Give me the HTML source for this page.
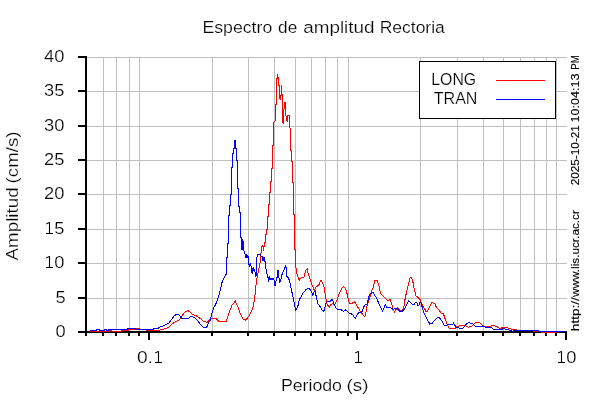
<!DOCTYPE html>
<html><head><meta charset="utf-8"><title>Espectro de amplitud Rectoria</title>
<style>html,body{margin:0;padding:0;background:#fff;}body{width:600px;height:400px;overflow:hidden;}svg{display:block;}text{font-family:"Liberation Sans",sans-serif;fill:#000;stroke:#fff;stroke-width:0.2px;paint-order:fill stroke;}</style></head><body>
<svg width="600" height="400" viewBox="0 0 600 400">
<rect x="0" y="0" width="600" height="400" fill="#fff"/>
<g fill="#c0c0c0" shape-rendering="crispEdges">
<rect x="103" y="57" width="1" height="275"/>
<rect x="116" y="57" width="1" height="275"/>
<rect x="129" y="57" width="1" height="275"/>
<rect x="139" y="57" width="1" height="275"/>
<rect x="212" y="57" width="1" height="275"/>
<rect x="248" y="57" width="1" height="275"/>
<rect x="274" y="57" width="1" height="275"/>
<rect x="295" y="57" width="1" height="275"/>
<rect x="311" y="57" width="1" height="275"/>
<rect x="325" y="57" width="1" height="275"/>
<rect x="337" y="57" width="1" height="275"/>
<rect x="348" y="57" width="1" height="275"/>
<rect x="420" y="57" width="1" height="275"/>
<rect x="457" y="57" width="1" height="275"/>
<rect x="483" y="57" width="1" height="275"/>
<rect x="503" y="57" width="1" height="275"/>
<rect x="520" y="57" width="1" height="275"/>
<rect x="534" y="57" width="1" height="275"/>
<rect x="546" y="57" width="1" height="275"/>
<rect x="556" y="57" width="1" height="275"/>
<rect x="86" y="298" width="481" height="1"/>
<rect x="86" y="263" width="481" height="1"/>
<rect x="86" y="229" width="481" height="1"/>
<rect x="86" y="194" width="481" height="1"/>
<rect x="86" y="160" width="481" height="1"/>
<rect x="86" y="126" width="481" height="1"/>
<rect x="86" y="91" width="481" height="1"/>
<rect x="86" y="57" width="481" height="1"/>
</g>
<g fill="#000" shape-rendering="crispEdges">
<rect x="85" y="56" width="2" height="277"/>
<rect x="85" y="331" width="482" height="2"/>
<rect x="78" y="331" width="9" height="2"/>
<rect x="78" y="297" width="9" height="2"/>
<rect x="78" y="262" width="9" height="2"/>
<rect x="78" y="228" width="9" height="2"/>
<rect x="78" y="193" width="9" height="2"/>
<rect x="78" y="159" width="9" height="2"/>
<rect x="78" y="125" width="9" height="2"/>
<rect x="78" y="90" width="9" height="2"/>
<rect x="78" y="56" width="9" height="2"/>
<rect x="148" y="331" width="2" height="9"/>
<rect x="356" y="331" width="2" height="9"/>
<rect x="565" y="331" width="2" height="9"/>
<rect x="85" y="331" width="2" height="5"/>
<rect x="102" y="331" width="2" height="5"/>
<rect x="115" y="331" width="2" height="5"/>
<rect x="128" y="331" width="2" height="5"/>
<rect x="138" y="331" width="2" height="5"/>
<rect x="211" y="331" width="2" height="5"/>
<rect x="247" y="331" width="2" height="5"/>
<rect x="273" y="331" width="2" height="5"/>
<rect x="294" y="331" width="2" height="5"/>
<rect x="310" y="331" width="2" height="5"/>
<rect x="324" y="331" width="2" height="5"/>
<rect x="336" y="331" width="2" height="5"/>
<rect x="347" y="331" width="2" height="5"/>
<rect x="419" y="331" width="2" height="5"/>
<rect x="456" y="331" width="2" height="5"/>
<rect x="482" y="331" width="2" height="5"/>
<rect x="502" y="331" width="2" height="5"/>
<rect x="519" y="331" width="2" height="5"/>
<rect x="533" y="331" width="2" height="5"/>
<rect x="545" y="331" width="2" height="5"/>
<rect x="555" y="331" width="2" height="5"/>
</g>
<polyline points="90,331.5 109.5,331.5 110,330.5 111.5,330.5 112,331.5 121,331.5 121.5,330.5 128,330.5 128.5,329.5 134,329.5 136,328.5 139,328.5 139.5,329.5 146,329.5 146.5,330.5 159.3,330.3 164.7,328.7 168.7,327.3 172,324 176,321.3 179.3,320 182,316 185,312 188,310.7 190,312 192.7,314.7 196,315.6 200,318.3 203.3,321 207.3,322.6 209.3,320 212,318.7 216,318.6 218,320.7 220,321.9 226,321.75 228.25,315 232,305.25 235.3,301.2 237.25,305.25 240.25,313.5 243.25,319.5 245.5,320.25 249.25,315.75 252.7,309 254.5,300 256,285 257.5,274.5 258.7,270 260.5,261 261.3,248 262.4,245.6 263.3,246.3 263.3,250.5 264.2,246.5 264.7,242.3 265.5,242 265.5,234.5 266.5,234.5 266.5,229.5 267.5,229.5 267.5,216 268.5,216 268.5,204.5 269.5,204.5 269.5,192.5 270.5,192.5 270.5,181 271.5,181 271.5,168.25 272.5,168.25 272.5,145.75 273.6,145.75 273.6,123 274.75,121.1 275.5,120.75 275.5,105 276.5,104.6 276.5,78.3 277.5,78.2 277.5,74.25 277.5,77.3 278.5,77.3 278.5,85.8 279.5,85.8 279.5,98.25 280.5,99.4 280.5,95.6 281.5,95.2 281.5,85.4 281.5,94 282.5,94.1 282.5,121.9 283.4,123.75 283.75,111.75 284.65,102 285.6,102 285.6,115.1 286.4,116.8 286.75,120 287.5,121.5 287.5,115.5 289.4,115.9 289.4,127.5 290.5,128.25 290.5,150 291.5,150 291.5,161.5 292.5,161.5 292.5,182 293.5,182 293.5,214.5 294.5,214.5 294.5,249 295.5,249 295.8,267 297,273.75 298.5,278.25 299.25,280.5 300,278.25 303.75,277.5 306,270 307.2,269.25 308.25,273.75 311.25,282.75 314.25,290.5 315.75,287.25 318.75,285 321,280.3 322.5,282.75 324.3,288 325.8,297.75 327,303.75 329.25,307.5 330.75,304.5 333,303.75 334.5,305.25 336.75,300.75 339,294 342,288 343.8,286.3 346.2,290.25 347.7,296.25 349.2,303 351.75,303.75 354.3,301.5 356.25,304.5 358.5,308.25 360.75,312 363,315 364.8,316.5 366,312 367.2,304.5 369,300 371.25,292.4 373.5,286.3 374.75,280.5 377.3,280.5 378.8,285.5 380.75,293.75 383,296 385.25,298.25 387.5,300.2 390.2,299.75 391.7,303.5 392.75,308.75 394.55,312.2 396,309.5 398,307.7 400.25,310.25 402.5,310.25 404,306.5 405.2,298.25 407,290 408.8,282.5 410,277.7 411.5,277.7 413,282.5 414.5,290 416,296 418.25,297.5 420.2,299.75 421.7,303.5 423.8,307.25 425.75,311 427.7,311 429.5,307.25 431.75,302.75 434.75,303.5 436.7,308 439.25,310.25 441.5,313.6 443.5,314 445,318.5 446.9,323.5 448.75,327.9 450,328.75 455.6,328.5 456.25,326.6 458.75,326 460.6,325.4 464.4,325.4 466.9,326.6 468.1,327.25 470,326.4 471.9,326 473.75,324.1 476.25,322.25 478.75,322.25 480.6,323.5 482.5,325.4 485,326.4 489.4,326.6 491.25,326 493.75,325.6 496.25,326.4 498.1,327.25 500,328.5 503.75,327.25 507.75,327.6 509.4,328.7 511.6,329.25 515.45,329.6 518.2,330.5 533,330.5 533,331.5 541.9,331.5 542,332.5 556.9,332.5 557,331.5 566,331.5" fill="none" stroke="#ff0000" stroke-width="1" shape-rendering="crispEdges"/>
<polyline points="90,330.5 96,330.5 96.5,329.5 99.5,329.5 100,330.5 104,330.5 104.3,329.5 106,329.5 106.3,330.5 108.3,330.5 108.5,329.5 127,329.5 127.5,328.5 135,328.5 135.5,329.5 153.3,329.5 153.5,328.5 158.3,328.5 158.5,327.5 162.7,326 168.7,323.3 172,318.7 174.7,315.3 177.3,314.4 179.6,315.3 181.3,318 183.3,318.7 188,318.7 191.3,316 193.3,317.3 196,318.7 198.7,322 201.3,325.7 204.7,328 206.5,327 207.3,326 208.75,322.5 210,321.3 211.75,313.5 214,306.75 215.3,305.3 218.3,297.5 219.5,294 220.5,289 221.5,284.5 222.5,280.5 223.5,279 224.5,277.2 225.5,275.2 226.5,274 226.5,257.5 227.5,257.5 227.5,243.5 228.5,243.5 228.5,215 229.5,215 229.5,205 230.5,205 230.5,194 231.5,194 231.5,167 232.5,167 232.5,153.25 233.5,153.25 233.5,148.5 234.5,148.5 234.5,140.5 235.5,140.5 235.5,148.3 236.5,148.3 236.5,160 237.5,160 237.5,188 238.5,188 238.5,206 239.5,206 239.5,212 240.5,212 240.5,237.75 241.5,238 241.5,249.5 242.4,239.5 242.4,249.7 243.2,241.5 243.2,249.75 243.8,250 244.5,253.75 245,254 245,257.5 246,254 246,257.5 247,254.5 247,257.5 248,255.5 248.2,257.5 248.6,264.25 249.6,266 250.2,263.5 251.1,266.1 251.6,273.25 252.2,268 252.5,273.5 253.6,267.25 254.2,271.5 254.8,270 255.6,276 256.5,275.5 256.5,259 257.5,254.6 260.1,254.6 261.6,256.4 262.4,256.6 262.6,260.5 263.4,256.8 263.6,261 264.4,257.5 264.6,261.25 265.4,262 265.75,267.25 266.9,273.25 267.6,277.4 268.5,278 268.5,281.5 269.5,278 270,280 271,278 272,279.5 273,278 274,280 275.1,286 276.3,280 277,277 277.5,270 278,278 278.5,270.5 279,278 280,282.5 281.2,278 282.25,273.5 284.5,268.75 285.6,266.1 286.4,268.75 286.4,276.25 288.6,278 290.1,283.4 291.25,289.4 292,292.5 293.25,298.5 294.75,306 295.8,310.5 297.75,306.75 299.25,300 303,293.25 306,289.5 308.7,288.3 311.25,291 312.75,295 314.25,291.75 315.3,291 316.5,298.5 318,303.75 320.25,306.75 322.5,310.5 323.7,311.55 324.75,308.25 325.8,303 327.75,301.5 330,301.8 331.8,299.25 333.3,301.5 334.5,305.25 336,308.25 337.5,309.75 341.25,309.75 343.5,311.25 345,309.75 347.25,311.25 349.5,313.5 352.5,314.25 354,317.25 355.2,318.3 356.7,315.3 358.5,312.75 361.5,312.75 363,309 364.5,305.25 367.2,303.75 368.25,299.5 369.3,294.75 371.25,293.2 373.25,292.5 374.75,295.25 377,299 378.8,303.5 380.75,307.25 382.7,311 384.2,307.25 385.25,304.7 386.75,307.7 389,307.25 391.25,308 393.2,309.5 395,308 397.25,308.75 399.5,311 402.5,311 404.75,308.75 407,304.25 408.5,300.5 410.75,302.75 412.25,304.25 414.5,304.25 415.25,302 416.75,302 417.5,305.3 419,305.3 419.3,302 420.8,302 422,306.5 423.8,312.5 425.75,316.25 428,320.75 429.8,324 431.75,323.75 434,320.75 436.25,318.5 438.5,317.3 440,318.5 441.9,321 444.4,325.4 446.9,325.4 447.5,324.5 452.5,324.5 453.5,323.25 455,325.4 456.25,327.25 458.75,327.6 460,328.75 462.5,328.75 464.4,326.6 466.25,324.1 468.75,322.25 470.6,323.5 473.1,324.1 475,326 476.25,327 477.5,326.25 483.75,326.25 485.6,327.25 491.25,327.25 493.75,329.5 501.25,329.5 503.1,328.75 507.5,329.5 510,330.4 512.5,331.25 513.75,330.5 538,330.5 538.3,331.5 566,331.5" fill="none" stroke="#0000ff" stroke-width="1" shape-rendering="crispEdges"/>
<g shape-rendering="crispEdges">
<rect x="419.5" y="61.5" width="136" height="57" fill="#fff" stroke="#000" stroke-width="1"/>
<rect x="496" y="80" width="49" height="1" fill="#ff0000"/>
<rect x="496" y="99" width="49" height="1" fill="#0000ff"/>
</g>
<g opacity="0.999">
<text x="202.40" y="32.80" font-size="16.7" text-anchor="start" textLength="69.90" lengthAdjust="spacingAndGlyphs">Espectro</text>
<text x="278.10" y="32.80" font-size="16.7" text-anchor="start" textLength="19.20" lengthAdjust="spacingAndGlyphs">de</text>
<text x="303.20" y="32.80" font-size="16.7" text-anchor="start" textLength="71.30" lengthAdjust="spacingAndGlyphs">amplitud</text>
<text x="379.70" y="32.80" font-size="16.7" text-anchor="start" textLength="65.10" lengthAdjust="spacingAndGlyphs">Rectoria</text>
<text x="55.40" y="337.00" font-size="16.7" text-anchor="start" textLength="10.17" lengthAdjust="spacingAndGlyphs">0</text>
<text x="55.40" y="303.00" font-size="16.7" text-anchor="start" textLength="10.17" lengthAdjust="spacingAndGlyphs">5</text>
<rect x="48.95" y="256.10" width="1.1" height="11.9"/><rect x="46.00" y="266.95" width="7" height="1.05"/><path d="M48.95,256.10 L48.95,257.20 L46.15,258.40 L46.15,257.40 Z"/><text x="54.27" y="268.00" font-size="16.7" text-anchor="start" textLength="10.17" lengthAdjust="spacingAndGlyphs">0</text>
<rect x="48.95" y="222.10" width="1.1" height="11.9"/><rect x="46.00" y="232.95" width="7" height="1.05"/><path d="M48.95,222.10 L48.95,223.20 L46.15,224.40 L46.15,223.40 Z"/><text x="54.27" y="234.00" font-size="16.7" text-anchor="start" textLength="10.17" lengthAdjust="spacingAndGlyphs">5</text>
<text x="44.10" y="199.00" font-size="16.7" text-anchor="start" textLength="20.34" lengthAdjust="spacingAndGlyphs">20</text>
<text x="44.10" y="165.00" font-size="16.7" text-anchor="start" textLength="20.34" lengthAdjust="spacingAndGlyphs">25</text>
<text x="44.10" y="131.00" font-size="16.7" text-anchor="start" textLength="20.34" lengthAdjust="spacingAndGlyphs">30</text>
<text x="44.10" y="96.00" font-size="16.7" text-anchor="start" textLength="20.34" lengthAdjust="spacingAndGlyphs">35</text>
<text x="44.10" y="62.00" font-size="16.7" text-anchor="start" textLength="20.34" lengthAdjust="spacingAndGlyphs">40</text>
<text x="136.90" y="363.00" font-size="16.7" text-anchor="start" textLength="15.99" lengthAdjust="spacingAndGlyphs">0.</text><rect x="157.95" y="351.10" width="1.1" height="11.9"/><rect x="155.00" y="361.95" width="7" height="1.05"/><path d="M157.95,351.10 L157.95,352.20 L155.15,353.40 L155.15,352.40 Z"/>
<rect x="357.95" y="351.10" width="1.1" height="11.9"/><rect x="355.00" y="361.95" width="7" height="1.05"/><path d="M357.95,351.10 L357.95,352.20 L355.15,353.40 L355.15,352.40 Z"/>
<rect x="560.95" y="351.10" width="1.1" height="11.9"/><rect x="558.00" y="361.95" width="7" height="1.05"/><path d="M560.95,351.10 L560.95,352.20 L558.15,353.40 L558.15,352.40 Z"/><text x="566.17" y="363.00" font-size="16.7" text-anchor="start" textLength="10.17" lengthAdjust="spacingAndGlyphs">0</text>
<text x="280.90" y="390.80" font-size="16.7" text-anchor="start" textLength="61.10" lengthAdjust="spacingAndGlyphs">Periodo</text>
<text x="346.60" y="390.80" font-size="16.7" text-anchor="start" textLength="21.80" lengthAdjust="spacingAndGlyphs">(s)</text>
<g transform="translate(18.4,260.4) rotate(-90)"><text x="0.00" y="0.00" font-size="16.7" text-anchor="start" textLength="73.00" lengthAdjust="spacingAndGlyphs">Amplitud</text></g>
<g transform="translate(18.4,183.4) rotate(-90)"><text x="0.00" y="0.00" font-size="16.7" text-anchor="start" textLength="51.85" lengthAdjust="spacingAndGlyphs">(cm/s)</text></g>
<text x="431.30" y="84.70" font-size="16.7" text-anchor="start" textLength="44.90" lengthAdjust="spacingAndGlyphs">LONG</text>
<text x="433.80" y="103.80" font-size="16.7" text-anchor="start" textLength="43.60" lengthAdjust="spacingAndGlyphs">TRAN</text>
<g transform="translate(579,185.3) rotate(-90)"><text x="0.00" y="0.00" font-size="11" text-anchor="start" textLength="60.20" lengthAdjust="spacingAndGlyphs" style="stroke:#000;stroke-width:0.15px">2025-10-21</text></g>
<g transform="translate(579,122.4) rotate(-90)"><text x="0.00" y="0.00" font-size="11" text-anchor="start" textLength="48.80" lengthAdjust="spacingAndGlyphs" style="stroke:#000;stroke-width:0.15px">10:04:13</text></g>
<g transform="translate(579,69.7) rotate(-90)"><text x="0.00" y="0.00" font-size="11" text-anchor="start" textLength="14.40" lengthAdjust="spacingAndGlyphs" style="stroke:#000;stroke-width:0.15px">PM</text></g>
<g transform="translate(579.2,331.2) rotate(-90)"><text x="0.00" y="0.00" font-size="11" text-anchor="start" textLength="34.10" lengthAdjust="spacingAndGlyphs" style="stroke:#000;stroke-width:0.15px">http://</text></g>
<g transform="translate(579.2,297.1) rotate(-90)"><text x="0.00" y="0.00" font-size="11" text-anchor="start" textLength="87.00" lengthAdjust="spacingAndGlyphs" style="stroke:#000;stroke-width:0.15px">www.lis.ucr.ac.cr</text></g>
</g>
</svg></body></html>
